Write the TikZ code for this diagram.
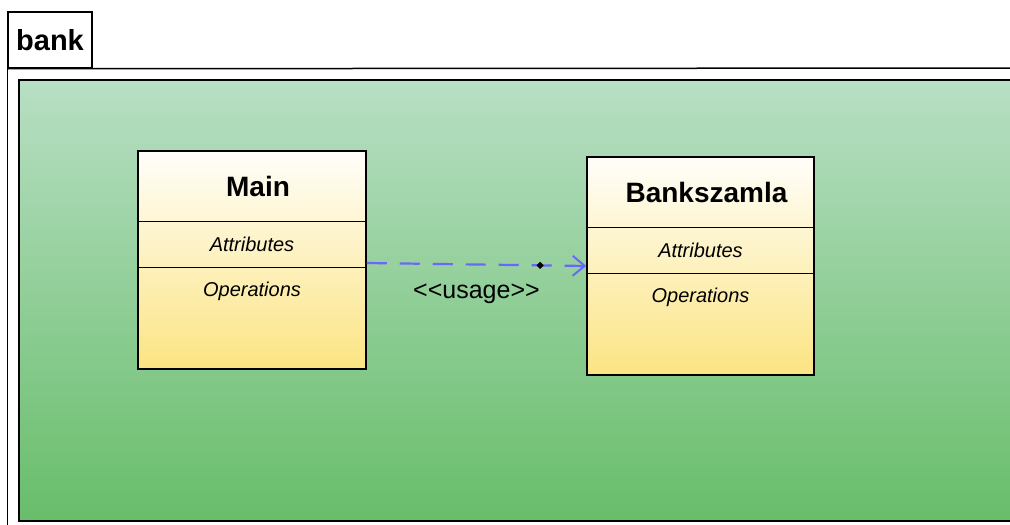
\documentclass[tikz,border=0pt]{standalone}
\usepackage{fontspec}
\setmainfont{Liberation Sans}
\usepackage{xcolor}
\usetikzlibrary{arrows.meta,shapes}

\definecolor{usageblue}{RGB}{104,104,250}
\definecolor{pkgtop}{RGB}{184,223,196}
\definecolor{pkgbot}{RGB}{104,189,106}
\definecolor{classtop}{RGB}{255,254,250}
\definecolor{classbot}{RGB}{251,228,130}

\begin{document}
\begin{tikzpicture}[>={Straight Barb[length=12bp,width=20bp,line width=2bp]},
	frame/.style={draw, line width=1.5bp},
	classbox/.style={frame, rectangle, minimum width=228bp, minimum height=218bp, inner sep=0pt, top color=classtop, bottom color=classbot},
	classname/.style={font=\fontsize{28bp}{32bp}\selectfont\bfseries},
	compart/.style={font=\fontsize{20bp}{24bp}\selectfont\itshape},
	usage/.style={draw=usageblue, line width=2.2bp, dash pattern=on 20bp off 13bp}]
	\useasboundingbox (0bp,0bp) rectangle (1010bp,-525bp);
	\clip (0bp,0bp) rectangle (1010bp,-525bp);
	\fill[white] (0bp,0bp) rectangle (1010bp,-525bp);

	% package
	\node (tab) at (50bp,-40bp) [frame, fill=white, minimum width=84bp, minimum height=56bp, inner sep=0pt, font=\fontsize{29bp}{32bp}\selectfont\bfseries] {bank};
	\draw[frame] (tab.south west) -- ++(0bp,-480bp);
	\draw[frame] (tab.south west) -- (1040bp,-68bp);
	\path[frame, top color=pkgtop, bottom color=pkgbot] (19bp,-80bp) rectangle (1040bp,-521bp);

	% classes
	\node (main) at (252bp,-260bp) [classbox] {};
	\draw[frame] ([yshift=-71bp]main.north west) -- ([yshift=-71bp]main.north east);
	\draw[frame] ([yshift=-117bp]main.north west) -- ([yshift=-117bp]main.north east);
	\node (mainname) at ([xshift=6bp,yshift=-36bp]main.north) [classname] {Main};
	\node (mainattr) at ([yshift=-94bp]main.north) [compart] {Attributes};
	\node (mainop) at ([yshift=-141bp]main.north) [compart] {Operations};

	\node (bank) at (700.5bp,-266bp) [classbox, minimum width=227bp] {};
	\draw[frame] ([yshift=-71bp]bank.north west) -- ([yshift=-71bp]bank.north east);
	\draw[frame] ([yshift=-117bp]bank.north west) -- ([yshift=-117bp]bank.north east);
	\node (bankname) at ([xshift=6bp,yshift=-36bp]bank.north) [classname] {Bankszamla};
	\node (bankattr) at ([yshift=-94bp]bank.north) [compart] {Attributes};
	\node (bankop) at ([yshift=-141bp]bank.north) [compart] {Operations};

	% dependency
	\draw[usage, ->] ([yshift=-3bp]main.east) to
		node[pos=0.79, diamond, fill=black, inner sep=0pt, minimum size=8bp] (dot) {}
		node[pos=0.5, yshift=-29bp, font=\fontsize{25bp}{28bp}\selectfont] (lbl) {<\kern0pt<usage>\kern0pt>}
		(bank.west);
\end{tikzpicture}
\end{document}
